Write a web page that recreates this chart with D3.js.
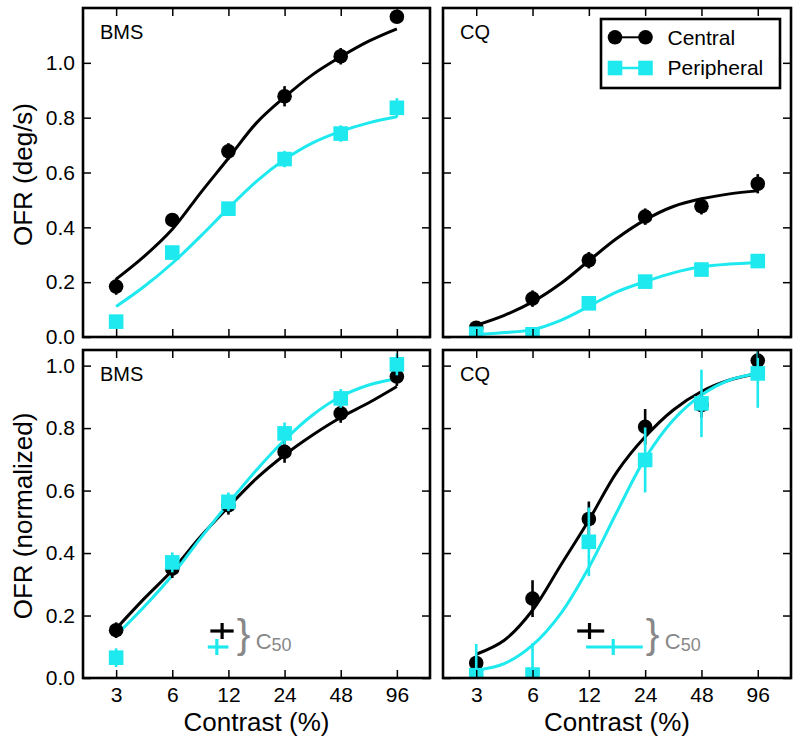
<!DOCTYPE html>
<html><head><meta charset="utf-8">
<script src="https://cdn.jsdelivr.net/npm/d3@7"></script>
<style>
body{margin:0;background:#fff}
svg{display:block}
text{font-family:"Liberation Sans",Arial,Helvetica,sans-serif}
</style>
</head><body><svg id="chart" width="800" height="746"></svg>
<script>
// ---------- data ----------
const contrasts = [3, 6, 12, 24, 48, 96];
const xTickLabels = ["3", "6", "12", "24", "48", "96"];
const fitContrasts = [3, 4.24, 6, 8.49, 12, 16.97, 24, 33.94, 48, 67.88, 96];
const yTickValues = [0, 0.2, 0.4, 0.6, 0.8, 1.0];
const seriesNames = ["Central", "Peripheral"];
const subjects = ["BMS", "CQ"];
const yTitles = ["OFR (deg/s)", "OFR (normalized)"];
const xTitle = "Contrast (%)";

// Raw OFR (deg/s)
const bmsCentralRaw     = [0.184, 0.427, 0.677, 0.878, 1.024, 1.168];
const bmsCentralRawErr  = [0.030, 0.025, 0.030, 0.037, 0.030, 0.022];
const bmsPeriphRaw      = [0.056, 0.308, 0.468, 0.649, 0.742, 0.836];
const bmsPeriphRawErr   = [0.020, 0.025, 0.025, 0.030, 0.030, 0.035];
const bmsCentralRawFit  = [0.211, 0.294, 0.393, 0.525, 0.652, 0.781, 0.875, 0.957, 1.022, 1.079, 1.124];
const bmsPeriphRawFit   = [0.111, 0.184, 0.269, 0.367, 0.470, 0.568, 0.647, 0.708, 0.750, 0.781, 0.803];

const cqCentralRaw      = [0.034, 0.140, 0.280, 0.439, 0.477, 0.559];
const cqCentralRawErr   = [0.020, 0.030, 0.030, 0.030, 0.030, 0.035];
const cqPeriphRaw       = [0.012, 0.010, 0.123, 0.202, 0.246, 0.277];
const cqPeriphRawErr    = [0.015, 0.015, 0.025, 0.020, 0.025, 0.025];
const cqCentralRawFit   = [0.043, 0.079, 0.128, 0.195, 0.278, 0.360, 0.427, 0.476, 0.504, 0.522, 0.533];
const cqPeriphRawFit    = [0.009, 0.016, 0.027, 0.061, 0.112, 0.165, 0.202, 0.234, 0.256, 0.266, 0.271];

// Normalized OFR
const bmsCentralNorm    = [0.153, 0.350, 0.553, 0.724, 0.847, 0.965];
const bmsCentralNormErr = [0.025, 0.030, 0.030, 0.035, 0.030, 0.030];
const bmsPeriphNorm     = [0.065, 0.370, 0.564, 0.783, 0.895, 1.004];
const bmsPeriphNormErr  = [0.030, 0.032, 0.030, 0.035, 0.030, 0.035];
const bmsCentralNormFit = [0.158, 0.254, 0.345, 0.452, 0.548, 0.639, 0.714, 0.778, 0.834, 0.881, 0.933];
const bmsPeriphNormFit  = [0.137, 0.228, 0.329, 0.447, 0.559, 0.666, 0.762, 0.842, 0.901, 0.938, 0.959];

const cqCentralNorm     = [0.048, 0.254, 0.509, 0.804, 0.874, 1.016];
const cqCentralNormErr  = [0.030, 0.059, 0.056, 0.057, 0.040, 0.030];
const cqPeriphNorm      = [0.009, 0.011, 0.436, 0.698, 0.879, 0.975];
const cqPeriphNormErr   = [0.100, 0.100, 0.110, 0.104, 0.108, 0.110];
const cqCentralNormFit  = [0.076, 0.121, 0.217, 0.361, 0.505, 0.660, 0.772, 0.858, 0.917, 0.954, 0.975];
const cqPeriphNormFit   = [0.025, 0.046, 0.105, 0.206, 0.354, 0.532, 0.703, 0.826, 0.906, 0.954, 0.975];

// C50 estimates (contrast %), [central, peripheral]
const bmsC50   = [11.1, 10.4];
const bmsC50Lo = [9.6, 9.3];
const bmsC50Hi = [12.8, 12.0];
const cqC50    = [12.1, 16.2];
const cqC50Lo  = [10.4, 11.6];
const cqC50Hi  = [14.5, 23.3];

// ---------- style / layout ----------
const BLACK = "#000";
const CYAN = "#1de9ef";
const GRAY = "#888";
const colors = [BLACK, CYAN];

const svg = d3.select("#chart");

const octPad = Math.pow(2, 0.59);
const panels = [
  {x0: 83,  x1: 430, y0: 8,   y1: 337, ymax: 1.2,  subj: 0, row: 0,
   c: [bmsCentralRaw, bmsPeriphRaw], e: [bmsCentralRawErr, bmsPeriphRawErr], f: [bmsCentralRawFit, bmsPeriphRawFit]},
  {x0: 443, x1: 791, y0: 8,   y1: 337, ymax: 1.2,  subj: 1, row: 0,
   c: [cqCentralRaw, cqPeriphRaw], e: [cqCentralRawErr, cqPeriphRawErr], f: [cqCentralRawFit, cqPeriphRawFit]},
  {x0: 83,  x1: 430, y0: 350, y1: 678, ymax: 1.05, subj: 0, row: 1,
   c: [bmsCentralNorm, bmsPeriphNorm], e: [bmsCentralNormErr, bmsPeriphNormErr], f: [bmsCentralNormFit, bmsPeriphNormFit],
   c50: [bmsC50, bmsC50Lo, bmsC50Hi]},
  {x0: 443, x1: 791, y0: 350, y1: 678, ymax: 1.05, subj: 1, row: 1,
   c: [cqCentralNorm, cqPeriphNorm], e: [cqCentralNormErr, cqPeriphNormErr], f: [cqCentralNormFit, cqPeriphNormFit],
   c50: [cqC50, cqC50Lo, cqC50Hi]}
];

panels.forEach((p, pi) => {
  const x = d3.scaleLog().base(2).domain([3 / octPad, 96 * octPad]).range([p.x0, p.x1]);
  const y = d3.scaleLinear().domain([0, p.ymax]).range([p.y1, p.y0]);
  const w = p.x1 - p.x0, h = p.y1 - p.y0;

  const clipId = "clip" + pi;
  svg.append("clipPath").attr("id", clipId)
    .append("rect").attr("x", p.x0).attr("y", p.y0).attr("width", w).attr("height", h);

  const g = svg.append("g").attr("clip-path", `url(#${clipId})`);

  // fit curves
  const line = d3.line().x(d => x(d[0])).y(d => y(d[1])).curve(d3.curveCatmullRom.alpha(0.5));
  [0, 1].forEach(s => {
    g.append("path")
      .datum(fitContrasts.map((c, i) => [c, p.f[s][i]]))
      .attr("d", line).attr("fill", "none")
      .attr("stroke", colors[s]).attr("stroke-width", 3);
  });

  // error bars + markers
  [0, 1].forEach(s => {
    const pts = contrasts.map((c, i) => ({c, v: p.c[s][i], e: p.e[s][i]}));
    g.selectAll(null).data(pts).enter().append("line")
      .attr("x1", d => x(d.c)).attr("x2", d => x(d.c))
      .attr("y1", d => y(d.v - d.e)).attr("y2", d => y(d.v + d.e))
      .attr("stroke", colors[s]).attr("stroke-width", 2.6);
    if (s === 0) {
      g.selectAll(null).data(pts).enter().append("circle")
        .attr("cx", d => x(d.c)).attr("cy", d => y(d.v)).attr("r", 7.3)
        .attr("fill", BLACK);
    } else {
      g.selectAll(null).data(pts).enter().append("rect")
        .attr("x", d => x(d.c) - 7.3).attr("y", d => y(d.v) - 7.3)
        .attr("width", 14.6).attr("height", 14.6)
        .attr("fill", CYAN);
    }
  });

  // axes (inside ticks on all sides)
  const tickLen = 8;
  const xb = svg.append("g").attr("transform", `translate(0,${p.y1})`)
    .call(d3.axisBottom(x).tickValues(contrasts).tickSize(-tickLen).tickPadding(9)
      .tickFormat((d, i) => p.row === 1 ? xTickLabels[i] : ""));
  const xt = svg.append("g").attr("transform", `translate(0,${p.y0})`)
    .call(d3.axisTop(x).tickValues(contrasts).tickSize(-tickLen).tickFormat(""));
  const yl = svg.append("g").attr("transform", `translate(${p.x0},0)`)
    .call(d3.axisLeft(y).tickValues(yTickValues).tickSize(-tickLen).tickPadding(8)
      .tickFormat(d => p.subj === 0 ? d3.format(".1f")(d) : ""));
  const yr = svg.append("g").attr("transform", `translate(${p.x1},0)`)
    .call(d3.axisRight(y).tickValues(yTickValues).tickSize(-tickLen).tickFormat(""));
  [xb, xt, yl, yr].forEach(a => {
    a.select(".domain").remove();
    a.selectAll(".tick line").attr("stroke", "#000").attr("stroke-width", 1.5);
    a.selectAll(".tick text").attr("font-size", 21).attr("fill", "#000")
      .style("font-family", '"Liberation Sans",Arial,Helvetica,sans-serif');
  });

  // frame
  svg.append("rect").attr("x", p.x0).attr("y", p.y0).attr("width", w).attr("height", h)
    .attr("fill", "none").attr("stroke", "#000").attr("stroke-width", 2.6);

  // subject label
  svg.append("text").attr("x", p.x0 + 17).attr("y", p.y0 + 30.5)
    .attr("font-size", 20).attr("fill", "#000").text(subjects[p.subj]);

  // x title
  if (p.row === 1) {
    svg.append("text").attr("x", (p.x0 + p.x1) / 2).attr("y", 731)
      .attr("text-anchor", "middle").attr("font-size", 26).attr("fill", "#000").text(xTitle);
  }
  // y title
  if (p.subj === 0) {
    svg.append("text")
      .attr("transform", `translate(32,${(p.y0 + p.y1) / 2 + 2}) rotate(-90)`)
      .attr("text-anchor", "middle").attr("font-size", 26).attr("fill", "#000")
      .text(yTitles[p.row]);
  }

  // C50 annotation
  if (p.c50) {
    const rowsY = [631, 647];
    [0, 1].forEach(s => {
      const yy = rowsY[s];
      svg.append("line").attr("x1", x(p.c50[1][s])).attr("x2", x(p.c50[2][s]))
        .attr("y1", yy).attr("y2", yy).attr("stroke", colors[s]).attr("stroke-width", 3.2);
      svg.append("line").attr("x1", x(p.c50[0][s])).attr("x2", x(p.c50[0][s]))
        .attr("y1", yy - 8).attr("y2", yy + 8).attr("stroke", colors[s]).attr("stroke-width", 3.2);
    });
    const bx = d3.max(p.c50[2], d => x(d)) + 3;
    svg.append("text").attr("x", bx).attr("y", 648).attr("font-size", 41)
      .attr("fill", GRAY).text("}");
    const t = svg.append("text").attr("x", bx + 19).attr("y", 649)
      .attr("font-size", 22).attr("fill", GRAY);
    t.append("tspan").text("C");
    t.append("tspan").attr("font-size", 18).attr("dy", 2).text("50");
  }

  // legend (top-right panel)
  if (p.row === 0 && p.subj === 1) {
    svg.append("rect").attr("x", 601).attr("y", 19).attr("width", 179).attr("height", 69)
      .attr("fill", "#fff").attr("stroke", "#000").attr("stroke-width", 2.6);
    const rows = [37.3, 68];
    seriesNames.forEach((name, s) => {
      const ly = rows[s];
      svg.append("line").attr("x1", 615).attr("x2", 645.5).attr("y1", ly).attr("y2", ly)
        .attr("stroke", colors[s]).attr("stroke-width", s === 0 ? 2 : 2.5);
      [615, 645.5].forEach(cx => {
        if (s === 0) {
          svg.append("circle").attr("cx", cx).attr("cy", ly).attr("r", 7.3).attr("fill", BLACK);
        } else {
          svg.append("rect").attr("x", cx - 7.3).attr("y", ly - 7.3)
            .attr("width", 14.6).attr("height", 14.6).attr("fill", CYAN);
        }
      });
      svg.append("text").attr("x", 667.5).attr("y", ly + 7.2).attr("font-size", 21)
        .attr("fill", "#000").text(name);
    });
  }
});
</script>
</body></html>
